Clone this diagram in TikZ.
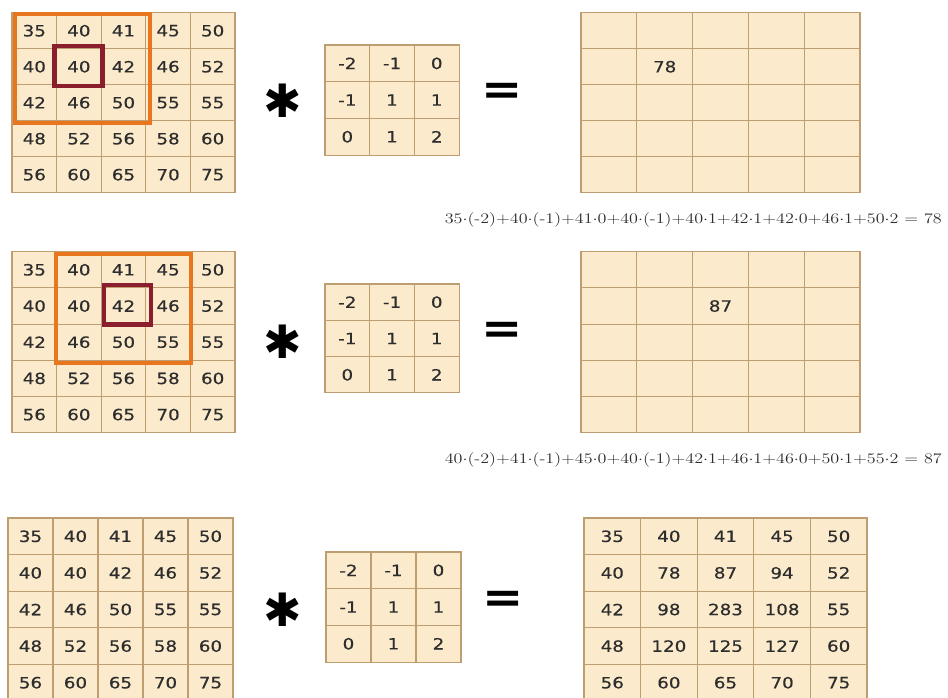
\documentclass[tikz,border=0pt]{standalone}
\usepackage{fontspec}
\usepackage{graphicx}
\newfontfamily\cellfont[FakeStretch=1.18,FakeBold=0.4]{DejaVu Sans}
\newfontfamily\symfont{DejaVu Sans}
\definecolor{cellfill}{RGB}{251,235,204}
\definecolor{cellline}{RGB}{190,158,112}
\definecolor{txtcol}{RGB}{45,45,45}
\definecolor{orangebox}{RGB}{232,118,30}
\definecolor{redbox}{RGB}{138,30,45}
\tikzset{
  cell/.style={draw=cellline, fill=cellfill, line width=1.1pt, inner sep=0pt,
    font=\cellfont\fontsize{15.5}{18}\selectfont, text=txtcol},
  formula/.style={inner sep=0pt, font=\fontsize{14.6}{16}\selectfont, text=txtcol},
  ast/.style={inner sep=0pt, font=\symfont\fontsize{46}{46}\selectfont, text=black},
  eqsign/.style={inner sep=0pt, font=\symfont\bfseries\fontsize{44}{44}\selectfont, text=black},
  obox/.style={draw=orangebox, line width=4pt},
  rbox/.style={draw=redbox, line width=4.5pt}
}
\newcommand\cnngrid[6]{%
  \foreach \rowvals [count=\r] in {#6} {
    \foreach \v [count=\c] in \rowvals {
      \node[cell, minimum width=#4pt, minimum height=#5pt] (#1-\r-\c)
        at ({#2+(\c-0.5)*#4},{#3+(\r-0.5)*#5}) {\v};
    }
  }%
}
\newcommand\fstretch[1]{\scalebox{1.24}[1]{#1}}
\newcommand\eqbox{\scalebox{1.12}[1]{=}}
\begin{document}
\begin{tikzpicture}[x=1pt,y=-1pt]
\useasboundingbox (0,0) rectangle (948,697);
\clip (0,0) rectangle (948,697);
\fill[white] (0,0) rectangle (948,697);

% ---------- row 1 ----------
\cnngrid{a1}{12}{12.7}{44.6}{36}{{35,40,41,45,50},{40,40,42,46,52},{42,46,50,55,55},{48,52,56,58,60},{56,60,65,70,75}}
\cnngrid{k1}{325}{45}{44.7}{36.7}{{-2,-1,0},{-1,1,1},{0,1,2}}
\cnngrid{o1}{581}{12.7}{55.8}{36}{{\relax,\relax,\relax,\relax,\relax},{\relax,78,\relax,\relax,\relax},{\relax,\relax,\relax,\relax,\relax},{\relax,\relax,\relax,\relax,\relax},{\relax,\relax,\relax,\relax,\relax}}
\draw[obox] ([shift={(3.5,2.3)}]a1-1-1.north west) rectangle ([shift={(3.5,2)}]a1-3-3.south east);
\draw[rbox] ([shift={(-1.5,-2.3)}]a1-2-2.north west) rectangle ([shift={(0.5,0.5)}]a1-2-2.south east);
\node[ast] (s1) at (283,101) {✱};
\node[eqsign] (e1) at (502,94) {\eqbox};
\node[formula, anchor=base east] (f1) at (942,223.5) {\fstretch{35$\cdot$(-2)+40$\cdot$(-1)+41$\cdot$0+40$\cdot$(-1)+40$\cdot$1+42$\cdot$1+42$\cdot$0+46$\cdot$1+50$\cdot$2 = 78}};

% ---------- row 2 ----------
\cnngrid{a2}{12}{251.7}{44.6}{36.2}{{35,40,41,45,50},{40,40,42,46,52},{42,46,50,55,55},{48,52,56,58,60},{56,60,65,70,75}}
\cnngrid{k2}{325}{284}{44.7}{36.3}{{-2,-1,0},{-1,1,1},{0,1,2}}
\cnngrid{o2}{581}{251.7}{55.8}{36.2}{{\relax,\relax,\relax,\relax,\relax},{\relax,\relax,87,\relax,\relax},{\relax,\relax,\relax,\relax,\relax},{\relax,\relax,\relax,\relax,\relax},{\relax,\relax,\relax,\relax,\relax}}
\draw[obox] ([shift={(0,3.3)}]a2-1-2.north west) rectangle ([shift={(0,2)}]a2-3-4.south east);
\draw[rbox] ([shift={(3.5,-2.3)}]a2-2-3.north west) rectangle ([shift={(4.5,0)}]a2-2-3.south east);
\node[ast] (s2) at (283,342) {✱};
\node[eqsign] (e2) at (502,333) {\eqbox};
\node[formula, anchor=base east] (f2) at (942,463.5) {\fstretch{40$\cdot$(-2)+41$\cdot$(-1)+45$\cdot$0+40$\cdot$(-1)+42$\cdot$1+46$\cdot$1+46$\cdot$0+50$\cdot$1+55$\cdot$2 = 87}};

% ---------- row 3 ----------
\cnngrid{a3}{8}{518}{45}{36.6}{{35,40,41,45,50},{40,40,42,46,52},{42,46,50,55,55},{48,52,56,58,60},{56,60,65,70,75}}
\cnngrid{k3}{326}{552}{45}{36.7}{{-2,-1,0},{-1,1,1},{0,1,2}}
\cnngrid{o3}{584}{518}{56.6}{36.6}{{35,40,41,45,50},{40,78,87,94,52},{42,98,283,108,55},{48,120,125,127,60},{56,60,65,70,75}}
\node[ast] (s3) at (283,610) {✱};
\node[eqsign] (e3) at (503,602) {\eqbox};
\end{tikzpicture}
\end{document}
